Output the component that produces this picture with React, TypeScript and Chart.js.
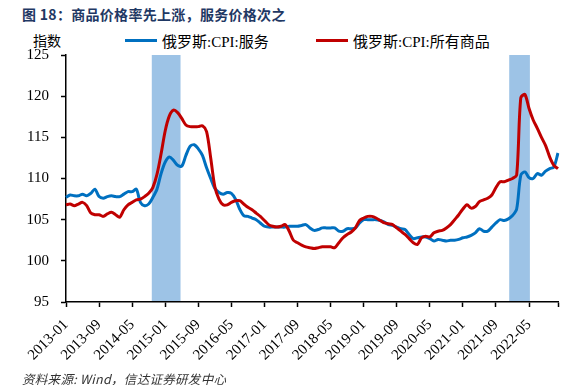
import React, { useEffect, useRef } from "react";
import { Chart, registerables } from "chart.js";

Chart.register(...registerables);

// ---- data ----
const startYear = 2013;
const monthCount = 120; // 2013-01 .. 2022-12
const months: string[] = [];
for (let i = 0; i < monthCount; i++) {
  const y = startYear + Math.floor(i / 12);
  const m = (i % 12) + 1;
  months.push(`${y}-${m < 10 ? "0" + m : m}`);
}

const tickMonths = [
  "2013-01", "2013-09", "2014-05", "2015-01", "2015-09", "2016-05", "2017-01", "2017-09",
  "2018-05", "2019-01", "2019-09", "2020-05", "2021-01", "2021-09", "2022-05", "2022-12",
];
const unlabeledTicks = ["2022-12"];

const services = [
  107.7, 108.0, 107.9, 107.9, 108.1, 107.9, 108.2, 108.7, 107.8, 107.6, 107.8, 107.9,
  107.8, 107.8, 108.1, 108.4, 108.4, 108.7, 107.1, 106.7, 106.9, 107.7, 108.7, 110.6,
  112.0, 112.6, 112.2, 111.6, 111.5, 112.8, 113.9, 114.1, 113.6, 112.8, 111.3, 110.0,
  108.8, 108.3, 108.1, 108.3, 108.2, 107.5, 106.3, 105.5, 105.4, 105.2, 105.0, 104.6,
  104.2, 104.1, 104.1, 104.1, 104.1, 104.1, 104.2, 104.2, 104.2, 104.3, 104.4, 104.0,
  103.7, 103.8, 104.0, 104.0, 104.0, 104.0, 103.6, 103.6, 103.9, 103.9, 104.0, 104.6,
  105.0, 105.0, 105.0, 105.0, 104.9, 104.7, 104.4, 104.3, 104.1, 103.9, 103.8, 103.2,
  102.7, 102.8, 102.9, 102.9, 102.7, 102.4, 102.6, 102.5, 102.4, 102.5, 102.5, 102.6,
  102.8, 102.9, 103.1, 103.4, 103.9, 103.6, 103.6, 104.1, 104.6, 105.0, 104.9, 105.1,
  105.5, 106.3, 110.4, 110.8, 110.1, 110.0, 110.6, 110.4, 110.9, 111.2, 111.4, 113.1,
];

const allGoods = [
  106.8, 106.9, 106.7, 106.9, 107.1, 106.7, 105.8, 105.6, 105.6, 105.4, 105.7, 105.9,
  105.6, 105.3, 106.2, 106.8, 107.1, 107.4, 107.5, 107.8, 108.2, 108.9, 110.5, 113.0,
  115.8, 117.6, 118.3, 118.0, 117.3, 116.5, 116.3, 116.3, 116.3, 116.4, 115.7, 112.5,
  109.0, 107.5, 106.8, 106.8, 107.1, 107.3, 107.3, 106.9, 106.5, 106.2, 105.8, 105.4,
  104.9, 104.4, 104.2, 104.1, 104.2, 104.4, 103.6, 102.5, 102.2, 101.9, 101.7, 101.6,
  101.5, 101.6, 101.7, 101.7, 101.7, 101.6, 102.2, 102.8, 103.2, 103.5, 104.0, 104.9,
  105.2, 105.4, 105.4, 105.2, 104.9, 104.6, 104.5, 104.4, 104.0, 103.6, 103.2, 102.7,
  102.2, 102.0, 102.8, 103.0, 102.9, 103.4, 103.6, 103.7, 104.0, 104.4, 105.0, 105.6,
  106.3, 106.8, 106.4, 106.6, 107.2, 107.4, 107.6, 108.0, 108.9, 109.6, 109.6, 109.8,
  110.0, 110.4, 119.8, 120.2, 118.5, 117.1, 116.1, 115.0, 114.0, 112.6, 111.6, 111.2,
];

// shaded periods, in month-index units on the category axis
const bandStart = [20.75, 107.2];
const bandEnd = [27.7, 112.2];

const seriesNames = ["俄罗斯:CPI:服务", "俄罗斯:CPI:所有商品"];
const seriesColors = ["#0070C0", "#C00000"];
const bandColor = "#9DC3E6";

const yMin = 95;
const yMax = 125;
const yStep = 5;

const titleText = "图 18：商品价格率先上涨，服务价格次之";
const unitText = "指数";
const sourceText = "资料来源: Wind，信达证券研发中心";

const bandPlugin = {
  id: "bands",
  beforeDraw(chart: any) {
    const { ctx, chartArea, scales } = chart;
    const xs = scales.x;
    ctx.save();
    ctx.fillStyle = bandColor;
    for (let i = 0; i < bandStart.length; i++) {
      const x1 = xs.getPixelForValue(bandStart[i]);
      const x2 = xs.getPixelForValue(bandEnd[i]);
      ctx.fillRect(x1, chartArea.top, x2 - x1, chartArea.bottom - chartArea.top);
    }
    ctx.restore();
  },
};

const serifFont = '"Liberation Serif", "Times New Roman", "Noto Sans CJK SC", serif';

export default function App() {
  const canvasRef = useRef<HTMLCanvasElement | null>(null);

  useEffect(() => {
    if (!canvasRef.current) return;
    const tickIdx = tickMonths.map((m) => months.indexOf(m));
    const chart = new Chart(canvasRef.current, {
      type: "line",
      data: {
        labels: months,
        datasets: [
          {
            label: seriesNames[0],
            data: services,
            borderColor: seriesColors[0],
            backgroundColor: seriesColors[0],
            borderWidth: 3,
            pointRadius: 0,
            tension: 0.3,
            order: 2,
          },
          {
            label: seriesNames[1],
            data: allGoods,
            borderColor: seriesColors[1],
            backgroundColor: seriesColors[1],
            borderWidth: 3,
            pointRadius: 0,
            tension: 0.3,
            order: 1,
          },
        ],
      },
      options: {
        responsive: false,
        animation: false,
        devicePixelRatio: 1,
        layout: { padding: { top: 55, right: 17, left: 0, bottom: 0 } },
        plugins: { legend: { display: false }, tooltip: { enabled: false } },
        scales: {
          x: {
            type: "category",
            offset: false,
            afterBuildTicks: (scale: any) => {
              scale.ticks = tickIdx.map((v) => ({ value: v }));
            },
            afterFit: (scale: any) => {
              scale.height = 83;
              scale.paddingRight = 0;
              scale.paddingLeft = 0;
            },
            grid: {
              display: true,
              drawOnChartArea: false,
              drawTicks: true,
              tickLength: 5,
              tickColor: "#000",
              tickWidth: 1.5,
            },
            border: { display: true, color: "#000", width: 1.5 },
            ticks: {
              autoSkip: false,
              maxRotation: 45,
              minRotation: 45,
              padding: 9,
              color: "#000",
              font: { family: serifFont, size: 15 },
              callback: (value: any) => {
                const lab = months[value as number];
                return unlabeledTicks.includes(lab) ? "" : lab;
              },
            },
          },
          y: {
            type: "linear",
            min: yMin,
            max: yMax,
            afterFit: (scale: any) => {
              scale.width = 66;
            },
            grid: {
              display: true,
              drawOnChartArea: false,
              drawTicks: true,
              tickLength: 5,
              tickColor: "#000",
              tickWidth: 1.5,
            },
            border: { display: true, color: "#000", width: 1.5 },
            ticks: {
              stepSize: yStep,
              padding: 12,
              color: "#000",
              font: { family: serifFont, size: 15 },
            },
          },
        },
      },
      plugins: [bandPlugin],
    });
    return () => chart.destroy();
  }, []);

  const legendItem = (i: number, left: number) => (
    <div
      key={i}
      style={{ position: "absolute", left, top: 31, height: 18, display: "flex", alignItems: "center" }}
    >
      <div style={{ width: 32, height: 3, background: seriesColors[i], marginRight: 5 }} />
      <span style={{ fontFamily: serifFont, fontSize: 15, color: "#000", whiteSpace: "nowrap" }}>
        {seriesNames[i]}
      </span>
    </div>
  );

  return (
    <div
      style={{
        position: "fixed",
        left: 0,
        top: 0,
        width: 575,
        height: 385,
        background: "#fff",
        overflow: "hidden",
      }}
    >
      <div
        style={{
          position: "absolute",
          left: 22,
          top: 5,
          fontFamily: '"Noto Sans CJK SC", sans-serif',
          fontWeight: 700,
          fontSize: 14,
          color: "#1F3864",
          whiteSpace: "nowrap",
          letterSpacing: 0.3,
          lineHeight: "18px",
        }}
      >
        {titleText}
      </div>
      <div
        style={{
          position: "absolute",
          left: 33,
          top: 31,
          fontFamily: '"Noto Sans CJK SC", sans-serif',
          fontSize: 14,
          color: "#000",
          lineHeight: "18px",
        }}
      >
        {unitText}
      </div>
      {legendItem(0, 125)}
      {legendItem(1, 316)}
      <canvas
        ref={canvasRef}
        width={575}
        height={385}
        style={{ position: "absolute", left: 0, top: 0, width: 575, height: 385 }}
      />
      <div
        style={{
          position: "absolute",
          left: 22,
          top: 371,
          fontFamily: '"Noto Sans CJK SC", sans-serif',
          fontStyle: "italic",
          fontSize: 12.5,
          color: "#333",
          whiteSpace: "nowrap",
          lineHeight: "16px",
          letterSpacing: 0.3,
        }}
      >
        {sourceText}
      </div>
    </div>
  );
}
